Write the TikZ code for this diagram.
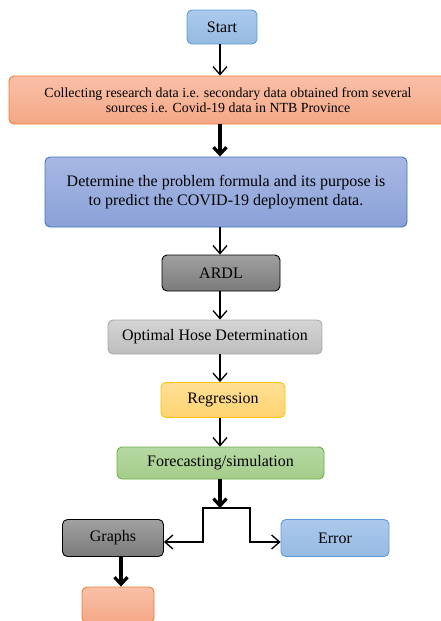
\documentclass[tikz,border=0pt]{standalone}
\usepackage{fontspec}
\setmainfont{Liberation Serif}
\usetikzlibrary{arrows.meta,positioning,calc}
\definecolor{bluetop}{RGB}{172,201,236}
\definecolor{bluebot}{RGB}{150,186,226}
\definecolor{blueline}{RGB}{91,155,213}
\definecolor{orangetop}{RGB}{249,192,168}
\definecolor{orangebot}{RGB}{244,168,134}
\definecolor{orangeline}{RGB}{237,125,49}
\definecolor{purptop}{RGB}{168,184,228}
\definecolor{purpbot}{RGB}{138,161,215}
\definecolor{purpline}{RGB}{68,114,196}
\definecolor{greytop}{RGB}{212,212,212}
\definecolor{greybot}{RGB}{190,190,190}
\definecolor{greyline}{RGB}{168,168,168}
\definecolor{yellowtop}{RGB}{255,224,150}
\definecolor{yellowbot}{RGB}{255,211,112}
\definecolor{yellowline}{RGB}{255,192,0}
\definecolor{greentop}{RGB}{182,217,163}
\definecolor{greenbot}{RGB}{164,204,138}
\definecolor{greenline}{RGB}{112,173,71}

\begin{document}
\begin{tikzpicture}[
        x=1pt, y=-1pt,
        box/.style={rounded corners=5pt, line width=0.9pt, align=center, inner sep=0pt,
          font=\fontsize{16pt}{19pt}\selectfont},
        bluebox/.style={box, draw=blueline, top color=bluetop, bottom color=bluebot},
        orangebox/.style={box, draw=orangeline, top color=orangetop, bottom color=orangebot},
        purpbox/.style={box, draw=purpline, top color=purptop, bottom color=purpbot},
        darkbox/.style={box, draw=black, top color=black!37, bottom color=black!52},
        greybox/.style={box, draw=greyline, top color=greytop, bottom color=greybot},
        yellowbox/.style={box, draw=yellowline, top color=yellowtop, bottom color=yellowbot},
        greenbox/.style={box, draw=greenline, top color=greentop, bottom color=greenbot},
        arr/.style={line width=1.3pt, -{Straight Barb[length=8pt, width=14pt, line width=1.3pt]}},
        boldarr/.style={line width=3.2pt, -{Straight Barb[length=7pt, width=13pt, line width=3.2pt]}}
      ]
        \useasboundingbox (0,0) rectangle (441,621);
        \coordinate (axis) at (220,0);

        \node[bluebox, minimum width=70pt, minimum height=34pt] (start) at (222,27) {Start};
        \node[orangebox, minimum width=438pt, minimum height=48pt,
          font=\fontsize{13.9pt}{15.5pt}\selectfont] (collect) at (228,100)
          {Collecting research data i.e. secondary data obtained from several\\
           sources i.e. Covid-19 data in NTB Province};
        \node[purpbox, minimum width=362pt, minimum height=70pt] (problem) at (226,192)
          {Determine the problem formula and its purpose is\\
           to predict the COVID-19 deployment data.};
        \node[darkbox, minimum width=118pt, minimum height=36pt] (ardl) at (221,273) {ARDL};
        \node[greybox, minimum width=214pt, minimum height=34pt] (optimal) at (215,337) {Optimal Hose Determination};
        \node[yellowbox, minimum width=124pt, minimum height=35pt] (regression) at (223,400) {Regression};
        \node[greenbox, minimum width=207pt, minimum height=32pt] (forecast) at (220.5,463) {Forecasting/simulation};
        \node[darkbox, minimum width=101pt, minimum height=37pt] (graphs) at (113,538) {Graphs};
        \node[bluebox, minimum width=108pt, minimum height=37pt] (error) at (335,538) {Error};
        \node[orangebox, minimum width=72pt, minimum height=36pt] (blank) at (118,605) {};

        % main chain
        \draw[arr] (axis |- start.south) -- (axis |- collect.north);
        \draw[boldarr] (axis |- collect.south) -- (axis |- problem.north);
        \draw[arr] (axis |- problem.south) -- (axis |- ardl.north);
        \draw[arr] (axis |- ardl.south) -- (axis |- optimal.north);
        \draw[arr] (axis |- optimal.south) -- (axis |- regression.north);
        \draw[arr] (axis |- regression.south) -- (axis |- forecast.north);

        % split to graphs and error
        \coordinate (split) at (axis |- 0,508);
        \draw[boldarr] (axis |- forecast.south) -- (split);
        \draw[arr, line cap=rect] (split) -- ++(-17,0) |- ([yshift=-4pt]graphs.east);
        \draw[arr, line cap=rect] (split) -- ++(30,0) |- ([yshift=-4pt]error.west);
        \draw[boldarr] ([xshift=8pt]graphs.south) -- ([xshift=3pt]blank.north);
      \end{tikzpicture}
\end{document}
